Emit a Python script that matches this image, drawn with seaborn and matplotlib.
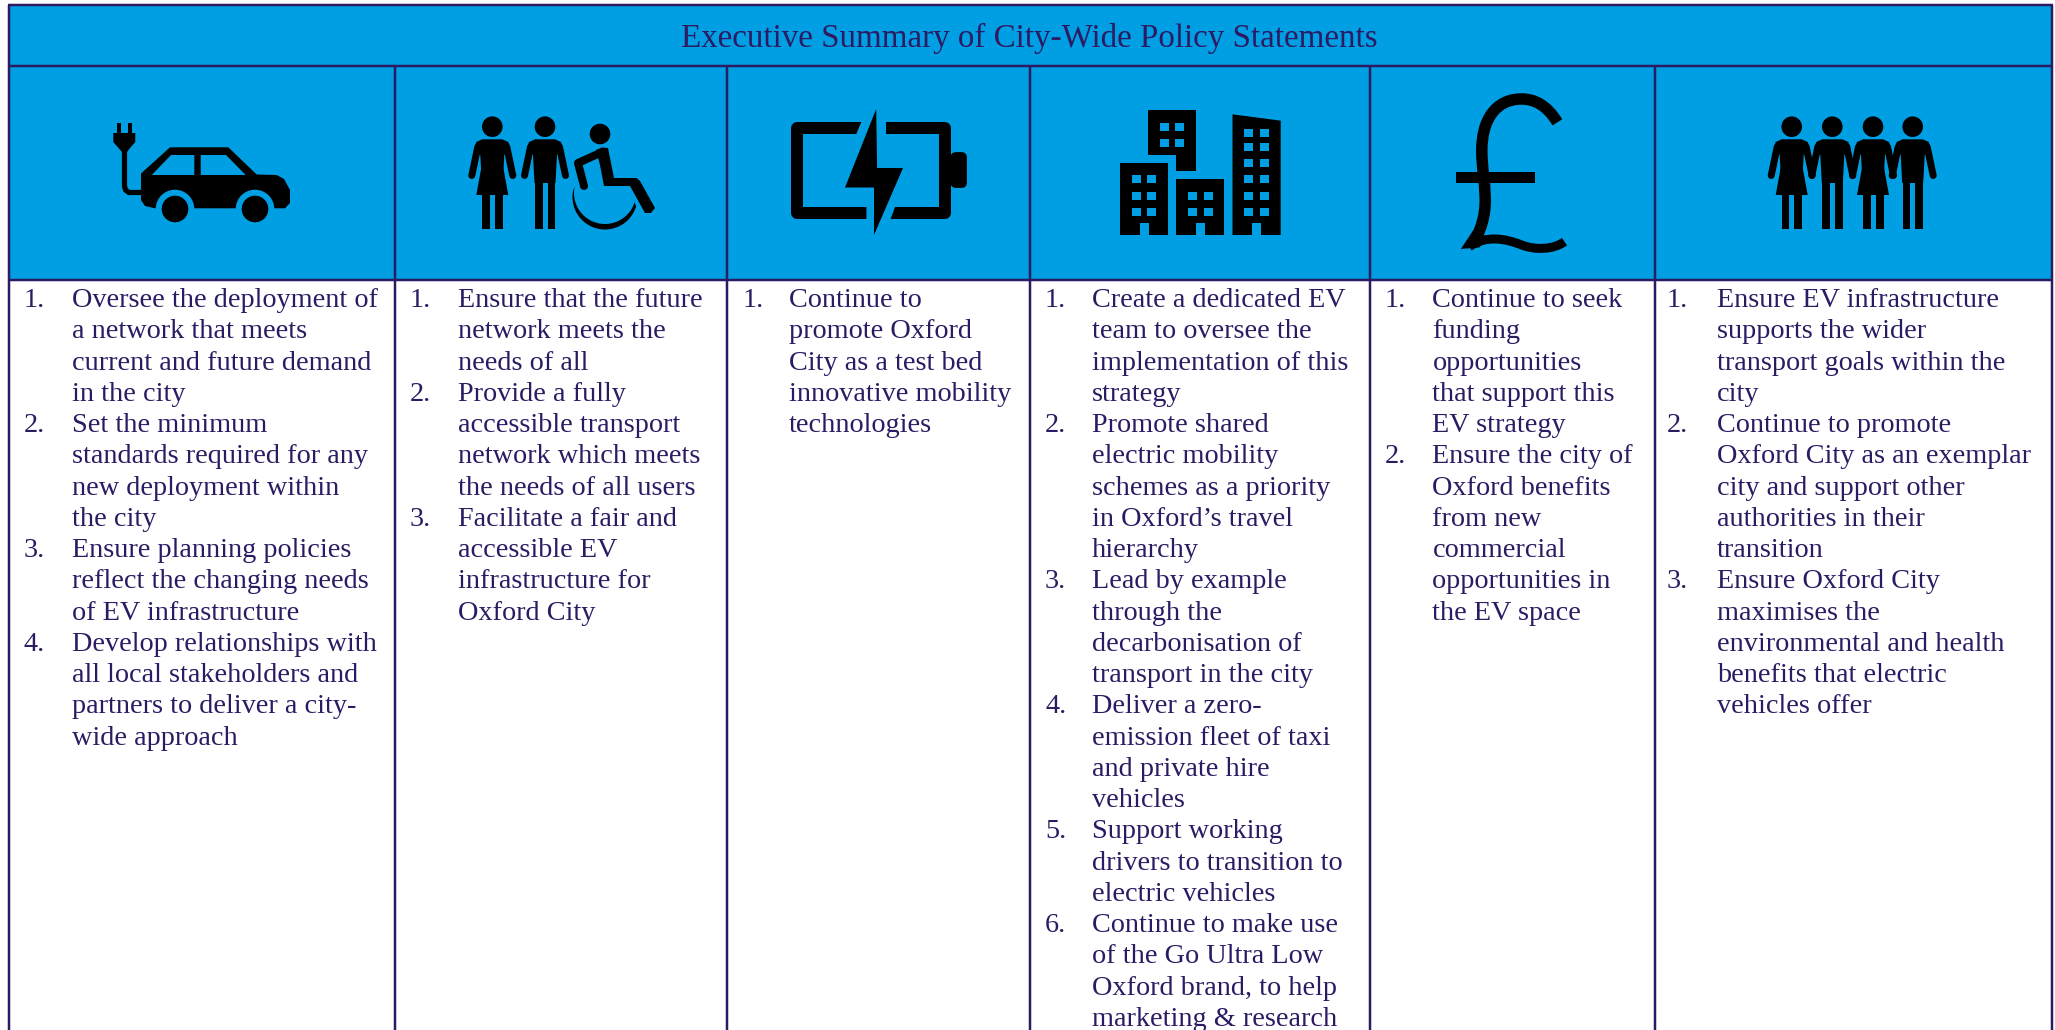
import numpy as np
import matplotlib
matplotlib.use("Agg")
import matplotlib.pyplot as plt
import seaborn as sns
from matplotlib.patches import Polygon, Circle, Rectangle, PathPatch, FancyBboxPatch
from matplotlib.path import Path

TITLE = "Executive Summary of City-Wide Policy Statements"
COL1 = [["Oversee the deployment of", "a network that meets", "current and future demand", "in the city"],
        ["Set the minimum", "standards required for any", "new deployment within", "the city"],
        ["Ensure planning policies", "reflect the changing needs", "of EV infrastructure"],
        ["Develop relationships with", "all local stakeholders and", "partners to deliver a city-", "wide approach"]]
COL2 = [["Ensure that the future", "network meets the", "needs of all"],
        ["Provide a fully", "accessible transport", "network which meets", "the needs of all users"],
        ["Facilitate a fair and", "accessible EV", "infrastructure for", "Oxford City"]]
COL3 = [["Continue to", "promote Oxford", "City as a test bed", "innovative mobility", "technologies"]]
COL4 = [["Create a dedicated EV", "team to oversee the", "implementation of this", "strategy"],
        ["Promote shared", "electric mobility", "schemes as a priority", "in Oxford\u2019s travel", "hierarchy"],
        ["Lead by example", "through the", "decarbonisation of", "transport in the city"],
        ["Deliver a zero-", "emission fleet of taxi", "and private hire", "vehicles"],
        ["Support working", "drivers to transition to", "electric vehicles"],
        ["Continue to make use", "of the Go Ultra Low", "Oxford brand, to help", "marketing & research"]]
COL5 = [["Continue to seek", "funding", "opportunities", "that support this", "EV strategy"],
        ["Ensure the city of", "Oxford benefits", "from new", "commercial", "opportunities in", "the EV space"]]
COL6 = [["Ensure EV infrastructure", "supports the wider", "transport goals within the", "city"],
        ["Continue to promote", "Oxford City as an exemplar", "city and support other", "authorities in their", "transition"],
        ["Ensure Oxford City", "maximises the", "environmental and health", "benefits that electric", "vehicles offer"]]
COLUMNS = [COL1, COL2, COL3, COL4, COL5, COL6]

EDGES = [9, 394.5, 727, 1030, 1370, 1654.5, 2051.5]
NUM_X = [24, 410, 743, 1045, 1385, 1667]
TXT_X = [71.5, 457.5, 789, 1092, 1432.5, 1717]
BLUE = "#009FE3"
INK = "#2C1A63"
W, H = 2055, 1030

sns.set_theme(style="white")
plt.rcParams["font.family"] = ["Liberation Serif", "DejaVu Serif"]
fig = plt.figure(figsize=(W / 100, H / 100), dpi=100, facecolor="white")
ax = fig.add_axes([0, 0, 1, 1])
ax.set_xlim(0, W)
ax.set_ylim(H, 0)
ax.axis("off")
sns.despine(ax=ax, left=True, bottom=True)

PX = 0.72
K = "black"

ax.add_patch(Rectangle((EDGES[0], 5), EDGES[-1] - EDGES[0], 275, fc=BLUE, ec="none", zorder=1))
for x in EDGES:
    top = 5 if x in (EDGES[0], EDGES[-1]) else 66
    ax.plot([x, x], [top, H], color=INK, lw=2.5 * PX, zorder=5, solid_capstyle="butt")
for y in (5, 66, 280):
    ax.plot([EDGES[0] - 1, EDGES[-1] + 1], [y, y], color=INK, lw=2.5 * PX, zorder=5, solid_capstyle="butt")

ax.text(1029.5, 47, TITLE, color=INK, fontsize=23.8, ha="center", va="baseline", zorder=6)

FS = 20.3
for col, nx, tx in zip(COLUMNS, NUM_X, TXT_X):
    row = 0
    for n, item in enumerate(col, 1):
        for j, text_line in enumerate(item):
            y = 307 + 31.26 * row
            if j == 0:
                ax.text(nx, y, f"{n}.", color=INK, fontsize=FS, ha="left", va="baseline", zorder=6)
            ax.text(tx, y, text_line, color=INK, fontsize=FS, ha="left", va="baseline", zorder=6)
            row += 1


def poly(pts, c=K, z=3):
    ax.add_patch(Polygon(pts, closed=True, fc=c, ec="none", zorder=z))


def line(pts, w, c=K, cap="round", join="round", z=3):
    xs, ys = zip(*pts)
    ax.plot(xs, ys, color=c, lw=w * PX, solid_capstyle=cap, solid_joinstyle=join, zorder=z)


def rect(x0, y0, x1, y1, c=K, z=3):
    ax.add_patch(Rectangle((x0, y0), x1 - x0, y1 - y0, fc=c, ec="none", zorder=z))


# car icon
rect(117.3, 122.7, 121, 134); rect(127.5, 122.7, 131.5, 134)
poly([(113.3, 133), (135.3, 133), (135.3, 142), (130, 148), (127.3, 151.7), (121.7, 151.7), (118.5, 148), (113.3, 142)])
line([(124.5, 150), (124.5, 186), (125.5, 190), (129, 192.5), (143, 192.5)], 5.2, cap="butt")
poly([(141, 173.5), (170, 147.3), (228.3, 147.3), (256.7, 174.5), (276.7, 175), (284, 179), (290, 190),
      (290, 203), (285, 208.3), (155, 208.3), (145, 206), (141, 200)])
poly([(151.7, 175), (171, 155), (194.3, 155), (194.3, 175)], BLUE, 4)
poly([(200.7, 175), (200.7, 155), (226, 155), (245.7, 175)], BLUE, 4)
for cx in (175, 255):
    ax.add_patch(Circle((cx, 209), 19.3, fc=BLUE, ec="none", zorder=4))
    ax.add_patch(Circle((cx, 209), 13.3, fc=K, ec="none", zorder=5))


def person(cx, woman):
    ax.add_patch(Circle((cx, 126.7), 10.3, fc=K, ec="none", zorder=3))
    line([(cx - 14.5, 147), (cx - 20.5, 175.5)], 7)
    line([(cx + 14.5, 147), (cx + 20.5, 175.5)], 7)
    poly([(cx - 10, 139.3), (cx + 10, 139.3), (cx + 16, 142), (cx + 18, 148), (cx + 12, 155), (cx + 10.5, 183),
          (cx - 10.5, 183), (cx - 12, 155), (cx - 18, 148), (cx - 16, 142)])
    if woman:
        poly([(cx - 10.5, 165), (cx + 10.5, 165), (cx + 16, 195), (cx - 16, 195)])
        rect(cx - 10, 194, cx - 2.3, 228.5)
        rect(cx + 2.7, 194, cx + 10.5, 228.5)
    else:
        rect(cx - 10.2, 180, cx - 2.3, 228.5)
        rect(cx + 2.7, 180, cx + 10.4, 228.5)


person(492.3, True)
person(545, False)
# wheelchair user
ax.add_patch(Circle((600, 134), 10.3, fc=K, ec="none", zorder=3))
poly([(596, 150), (602, 147.5), (608, 148), (614, 178), (636.7, 178), (640, 181), (655, 208), (651, 213), (645, 213),
      (630, 186), (604, 186), (600, 165)])
line([(600, 153), (578, 163), (584, 186)], 8)
th = np.radians(np.linspace(17, 192, 60))
outer = np.c_[605 + 32.5 * np.cos(th), 197 + 32.5 * np.sin(th)]
inner = np.c_[605 + 31 * np.cos(th[::-1]), 193 + 31 * np.sin(th[::-1])]
poly(np.vstack([outer, inner]))

# battery icon
line([(870, 128), (796.5, 128), (796.5, 213), (880, 213)], 12, cap="butt")
line([(870, 128), (945, 128), (945, 213), (880, 213)], 12, cap="butt")
zx = lambda v: 720 + v * 700 / 1568
zy = lambda v: 50 + v / 3
poly([(zx(320), zy(205)), (zx(372), zy(205)), (zx(372), zy(262)), (zx(303), zy(262))], BLUE, 3.2)
poly([(zx(328), zy(460)), (zx(395), zy(460)), (zx(380), zy(515)), (zx(328), zy(515))], BLUE, 3.2)
ax.add_patch(FancyBboxPatch((952, 153.5), 13.5, 33, boxstyle="round,pad=0,rounding_size=4", fc=K, ec=K, lw=2, zorder=3))
poly([(876.2, 109), (845, 187.5), (874, 187.5), (874, 235), (903, 168), (877.1, 168)], K, 3.4)


def bldg(pts, doors, wins):
    poly([(zx(a), zy(b)) for a, b in pts])
    for d in doors:
        rect(zx(d), zy(520), zx(d + 20), zy(556), BLUE, 4)
    for a, b, c, e in wins:
        rect(zx(a), zy(b), zx(c), zy(e), BLUE, 4)


bldg([(958, 181), (1066, 181), (1066, 363), (1022, 363), (1022, 315), (958, 315)], [],
     [(a, b, a + 20, b + 25) for a in (985, 1020) for b in (218, 266)])
bldg([(895, 340), (1004, 340), (1004, 555), (895, 555)], [940],
     [(a, b, a + 20, b + 24) for a in (922, 957) for b in (375, 425, 473)])
bldg([(1022, 388), (1130, 388), (1130, 555), (1022, 555)], [1066],
     [(a, b, a + 20, b + 24) for a in (1048, 1084) for b in (425, 473)])
bldg([(1148, 193), (1256, 212), (1256, 555), (1148, 555)], [1192],
     [(a, b, a + 21, b + 24) for a in (1173, 1209) for b in (237, 280, 328, 375, 425, 473)])

# pound icon
px = lambda v: 1400 + v * 655 / 1561
py = lambda v: 50 + v / 3
verts = [(375, 217), (350, 165), (320, 147), (290, 147), (225, 147), (195, 215), (195, 300),
         (195, 400), (222, 470), (178, 572)]
codes = [Path.MOVETO] + [Path.CURVE4] * 9
ax.add_patch(PathPatch(Path([(px(a), py(b)) for a, b in verts], codes), fc="none", ec=K, lw=11.5 * PX, zorder=3, capstyle="butt"))
verts2 = [(165, 590), (205, 555), (250, 565), (290, 585), (320, 600), (365, 600), (392, 575)]
codes2 = [Path.MOVETO] + [Path.CURVE4] * 6
ax.add_patch(PathPatch(Path([(px(a), py(b)) for a, b in verts2], codes2), fc="none", ec=K, lw=9 * PX, zorder=3, capstyle="butt"))
poly([(px(145), py(597)), (px(175), py(540)), (px(205), py(560)), (px(190), py(592))])
rect(px(133), py(365), px(322), py(398))

# group icon
for cx, woman in zip((1791.7, 1832.3, 1873, 1912.7), (True, False, True, False)):
    person(cx, woman)

fig.savefig("out.png", dpi=100, facecolor="white")
